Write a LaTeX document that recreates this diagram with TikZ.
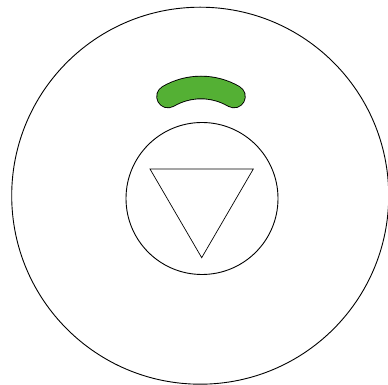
\documentclass[tikz,border=0pt]{standalone}
\definecolor{bandgreen}{RGB}{84,176,52}
\tikzset{thinline/.style={draw=black,line width=0.9pt}}
\begin{document}
\begin{tikzpicture}[x=1pt,y=1pt]
\useasboundingbox (0,0) rectangle (388,385);
\fill[white] (0,0) rectangle (388,385);
% outer circle
\draw[thinline] (200.2,189.3) circle[radius=188.5];
% inner circle
\draw[thinline] (202,186.5) circle[radius=76];
% triangle
\draw[black,line width=0.7pt,line join=miter] (150,216) -- (253.3,216) -- (201.7,127.3) -- cycle;
% green band
\draw[black,line width=23.5pt,line cap=round] (168,288.5) arc[start angle=120.5,end angle=59.5,radius=65];
\draw[bandgreen,line width=21.7pt,line cap=round] (168,288.5) arc[start angle=120.5,end angle=59.5,radius=65];
\end{tikzpicture}
\end{document}
